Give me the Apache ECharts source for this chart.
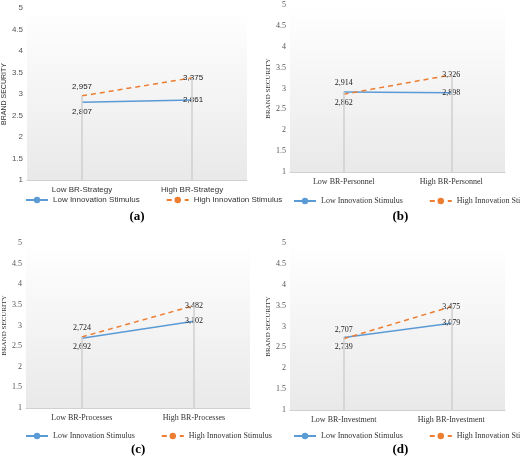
<!DOCTYPE html>
<html>
<head>
<meta charset="utf-8">
<script src="https://cdn.jsdelivr.net/npm/echarts@6/dist/echarts.min.js"></script>
<style>html,body{margin:0;padding:0;background:#fff}#main{width:520px;height:456px}</style>
</head>
<body>
<div id="main"></div>
<script>
// categories per panel
var catsA = ['Low BR-Strategy', 'High BR-Strategy'];
var catsB = ['Low BR-Personnel', 'High BR-Personnel'];
var catsC = ['Low BR-Processes', 'High BR-Processes'];
var catsD = ['Low BR-Investment', 'High BR-Investment'];
// Low Innovation Stimulus
var lowA = [2.807, 2.861];
var lowB = [2.914, 2.898];
var lowC = [2.692, 3.102];
var lowD = [2.739, 3.079];
// High Innovation Stimulus
var highA = [2.957, 3.375];
var highB = [2.862, 3.326];
var highC = [2.724, 3.482];
var highD = [2.707, 3.475];
var captions = ['(a)', '(b)', '(c)', '(d)'];

var panels = [
    {cats: catsA, low: lowA, high: highA, lowPos: 'bottom', highPos: 'top', font: 'Liberation Sans',
     grid: {left: 22, top: 8, width: 225, height: 172}, legendTop: 191, capTop: 205},
    {cats: catsB, low: lowB, high: highB, lowPos: 'top', highPos: 'bottom', font: 'Liberation Serif',
     grid: {left: 290, top: 5, width: 215, height: 167}, legendTop: 192, capTop: 205},
    {cats: catsC, low: lowC, high: highC, lowPos: 'bottom', highPos: 'top', font: 'Liberation Serif',
     grid: {left: 22, top: 243, width: 228, height: 165}, legendTop: 427, capTop: 438},
    {cats: catsD, low: lowD, high: highD, lowPos: 'bottom', highPos: 'top', font: 'Liberation Serif',
     grid: {left: 290, top: 243, width: 215, height: 167}, legendTop: 427, capTop: 438}
];

function fmt(p) { return p.value.toFixed(3).replace('.', ','); }

var option = {grid: [], xAxis: [], yAxis: [], series: [], legend: [], title: [], animation: false};

panels.forEach(function (p, i) {
    var g = p.grid;
    option.grid.push({left: g.left, top: g.top, width: g.width, height: g.height, show: true, borderWidth: 0,
        backgroundColor: {type: 'linear', x: 0, y: 0, x2: 0, y2: 1,
            colorStops: [{offset: 0, color: '#ffffff'}, {offset: 1, color: '#e9e9e9'}]}});
    option.xAxis.push({type: 'category', gridIndex: i, data: p.cats,
        axisLine: {lineStyle: {color: '#d0d0d0'}}, axisTick: {show: false},
        axisLabel: {fontFamily: p.font, fontSize: 8, color: '#333', margin: 6}});
    option.yAxis.push({type: 'value', gridIndex: i, min: 1, max: 5, interval: 0.5,
        name: 'BRAND SECURITY', nameLocation: 'middle', nameGap: 16,
        nameTextStyle: {fontFamily: p.font, fontSize: 7, color: '#333'},
        splitLine: {show: false}, axisLine: {show: false}, axisTick: {show: false},
        axisLabel: {fontFamily: p.font, fontSize: 8, color: '#555', margin: 4}});
    var maxs = [Math.max(p.low[0], p.high[0]), Math.max(p.low[1], p.high[1])];
    option.series.push({name: 'Low Innovation Stimulus', type: 'line', xAxisIndex: i, yAxisIndex: i,
        data: [{value: p.low[0], label: {position: p.lowPos}}, {value: p.low[1], label: {position: 'right', offset: [-14, 0]}}],
        symbol: 'circle', symbolSize: 0.1, showSymbol: true,
        lineStyle: {color: '#5b9bd5', width: 1.5}, itemStyle: {color: '#5b9bd5'},
        label: {show: true, formatter: fmt, fontFamily: p.font, fontSize: 8, color: '#222'},
        markLine: {silent: true, symbol: 'none', label: {show: false},
            lineStyle: {color: '#cfcfcf', type: 'solid', width: 1.5},
            data: [[{coord: [0, 1]}, {coord: [0, maxs[0]]}], [{coord: [1, 1]}, {coord: [1, maxs[1]]}]]}});
    option.series.push({name: 'High Innovation Stimulus', type: 'line', xAxisIndex: i, yAxisIndex: i,
        data: [{value: p.high[0], label: {position: p.highPos}}, {value: p.high[1], label: {position: 'right', offset: [-14, 0]}}],
        symbol: 'circle', symbolSize: 0.1, showSymbol: true,
        lineStyle: {color: '#ed7d31', width: 1.5, type: [5, 4]}, itemStyle: {color: '#ed7d31'},
        label: {show: true, formatter: fmt, fontFamily: p.font, fontSize: 8, color: '#222'}});
    option.legend.push({left: g.left - 2, top: p.legendTop, width: 260, orient: 'horizontal',
        itemWidth: 22, itemHeight: 8, itemGap: 26,
        textStyle: {fontFamily: p.font, fontSize: 8, color: '#333'},
        data: ['Low Innovation Stimulus', 'High Innovation Stimulus']});
    option.title.push({text: captions[i], left: g.left + g.width / 2 - 10, top: p.capTop,
        textStyle: {fontFamily: 'Liberation Serif', fontSize: 13, fontWeight: 'bold', color: '#000'}});
});

var myChart = echarts.init(document.getElementById('main'));
myChart.setOption(option);
</script>
</body>
</html>
